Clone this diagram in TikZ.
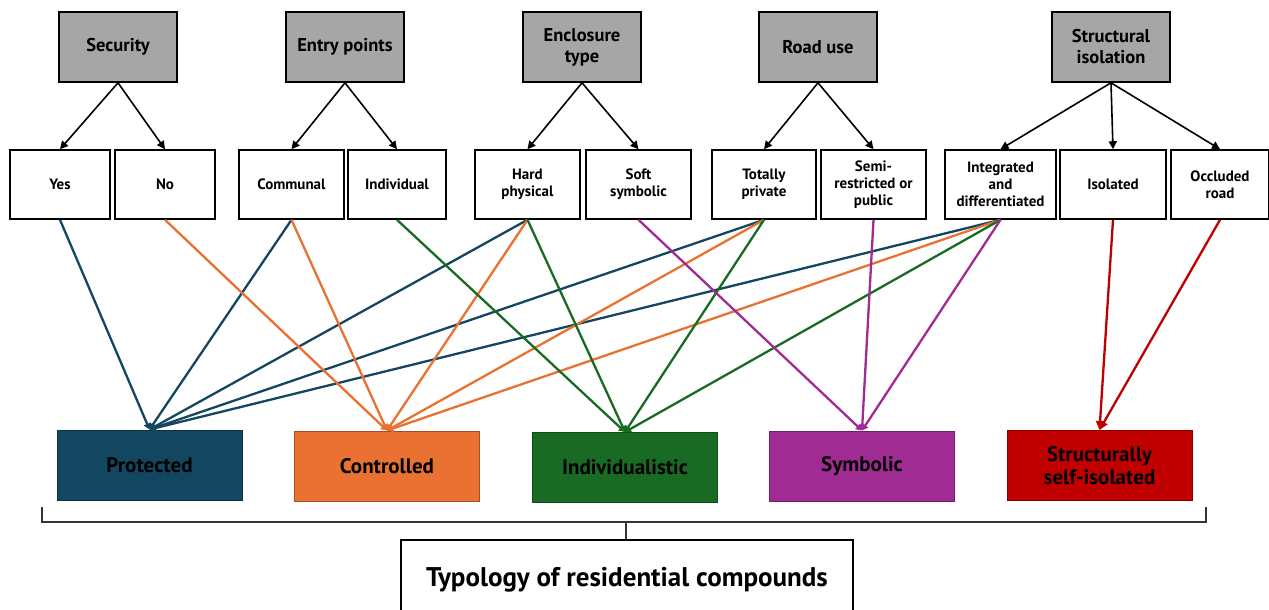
\documentclass[tikz,border=0pt]{standalone}
\usepackage{fontspec}
\setmainfont{PT Sans}
\usetikzlibrary{arrows.meta}
\definecolor{cprot}{HTML}{134761}
\definecolor{cctrl}{HTML}{E97132}
\definecolor{cindi}{HTML}{196B24}
\definecolor{csymb}{HTML}{A02B93}
\definecolor{cstru}{HTML}{C00000}
\definecolor{cgray}{HTML}{A6A6A6}
\tikzset{
  topbox/.style={draw=black, line width=1.6pt, fill=cgray, minimum width=118pt, minimum height=70pt,
    inner sep=0pt, align=center, font=\bfseries\fontsize{18.5}{21}\selectfont},
  optbox/.style={draw=black, line width=1.6pt, fill=white, minimum height=69pt,
    inner sep=0pt, align=center, font=\bfseries\fontsize{15}{17}\selectfont},
  typebox/.style={draw=#1!70!black, line width=1pt, fill=#1, minimum width=185pt, minimum height=70pt,
    inner sep=0pt, align=center, font=\bfseries\fontsize{21}{23}\selectfont},
  blk/.style={draw=black, line width=1.6pt, -{Triangle[length=8pt,width=8pt]}},
  con/.style={draw=#1, line width=2.3pt, -{Triangle[length=6pt,width=7pt]}},
  brk/.style={draw=black!80, line width=1.5pt}
}
\begin{document}
\begin{tikzpicture}[x=1pt,y=-1pt]
\useasboundingbox (0,0) rectangle (1269,610);
\clip (0,0) rectangle (1269,610);
% top row
\node[topbox] (sec) at (118,47) {Security};
\node[topbox] (ent) at (345,47) {Entry points};
\node[topbox] (enc) at (582,47) {Enclosure\\type};
\node[topbox] (road) at (818,47) {Road use};
\node[topbox] (str) at (1111,47) {Structural\\isolation};
% second row
\node[optbox, minimum width=100pt] (yes) at (60,184.5) {Yes};
\node[optbox, minimum width=100pt] (no) at (165,184.5) {No};
\node[optbox, minimum width=105pt] (com) at (291.5,184.5) {Communal};
\node[optbox, minimum width=98pt] (ind) at (397,184.5) {Individual};
\node[optbox, minimum width=105pt] (hard) at (527.5,184.5) {Hard\\physical};
\node[optbox, minimum width=105pt] (soft) at (638.5,184.5) {Soft\\symbolic};
\node[optbox, minimum width=104pt] (tot) at (764,184.5) {Totally\\private};
\node[optbox, minimum width=105pt] (semi) at (873.5,184.5) {Semi-\\restricted or\\public};
\node[optbox, minimum width=111pt] (integ) at (1000.5,184.5) {Integrated\\and\\differentiated};
\node[optbox, minimum width=106pt] (iso) at (1113,184.5) {Isolated};
\node[optbox, minimum width=98pt] (occ) at (1220,184.5) {Occluded\\road};
% black arrows
\draw[blk] (sec.south) -- (yes.north);
\draw[blk] (sec.south) -- (no.north);
\draw[blk] (ent.south) -- (com.north);
\draw[blk] (ent.south) -- (ind.north);
\draw[blk] (enc.south) -- (hard.north);
\draw[blk] (enc.south) -- (soft.north);
\draw[blk] (road.south) -- (tot.north);
\draw[blk] (road.south) -- (semi.north);
\draw[blk] (str.south) -- (integ.north);
\draw[blk] (str.south) -- (iso.north);
\draw[blk] (str.south) -- (occ.north);
% bottom row
\node[typebox=cprot] (prot) at (149.5,465) {Protected};
\node[typebox=cctrl] (ctrl) at (387,466) {Controlled};
\node[typebox=cindi] (indi) at (625,467.5) {Individualistic};
\node[typebox=csymb] (symb) at (862,466) {Symbolic};
\node[typebox=cstru] (stru) at (1099.5,465.5) {Structurally\\self-isolated};
% coloured connectors
\draw[con=cprot] (yes.south) -- (prot.north);
\draw[con=cprot] (com.south) -- (prot.north);
\draw[con=cprot] (hard.south) -- (prot.north);
\draw[con=cprot] (tot.south) -- (prot.north);
\draw[con=cprot] (integ.south) -- (prot.north);
\draw[con=cctrl] (no.south) -- (ctrl.north);
\draw[con=cctrl] (com.south) -- (ctrl.north);
\draw[con=cctrl] (hard.south) -- (ctrl.north);
\draw[con=cctrl] (tot.south) -- (ctrl.north);
\draw[con=cctrl] (integ.south) -- (ctrl.north);
\draw[con=cindi] (ind.south) -- (indi.north);
\draw[con=cindi] (hard.south) -- (indi.north);
\draw[con=cindi] (tot.south) -- (indi.north);
\draw[con=cindi] (integ.south) -- (indi.north);
\draw[con=csymb] (soft.south) -- (symb.north);
\draw[con=csymb] (semi.south) -- (symb.north);
\draw[con=csymb] (integ.south) -- (symb.north);
\draw[con=cstru, -{Triangle[length=9pt,width=8pt]}] (iso.south) -- (stru.north);
\draw[con=cstru, -{Triangle[length=9pt,width=8pt]}] (occ.south) -- (stru.north);
% bracket and result
\node[draw=black, line width=1.6pt, fill=white, minimum width=452pt, minimum height=80pt, inner sep=0pt,
  font=\bfseries\fontsize{27}{30}\selectfont] (typ) at (627,580) {\raisebox{5pt}{Typology of residential compounds}};
\coordinate (bl) at (42,507);
\coordinate (br) at (1206,507);
\coordinate (bm) at (626,522);
\draw[brk] (bl) -- (bl |- bm) -- (br |- bm) -- (br);
\draw[brk] (bm) -- (bm |- typ.north);
\end{tikzpicture}
\end{document}
